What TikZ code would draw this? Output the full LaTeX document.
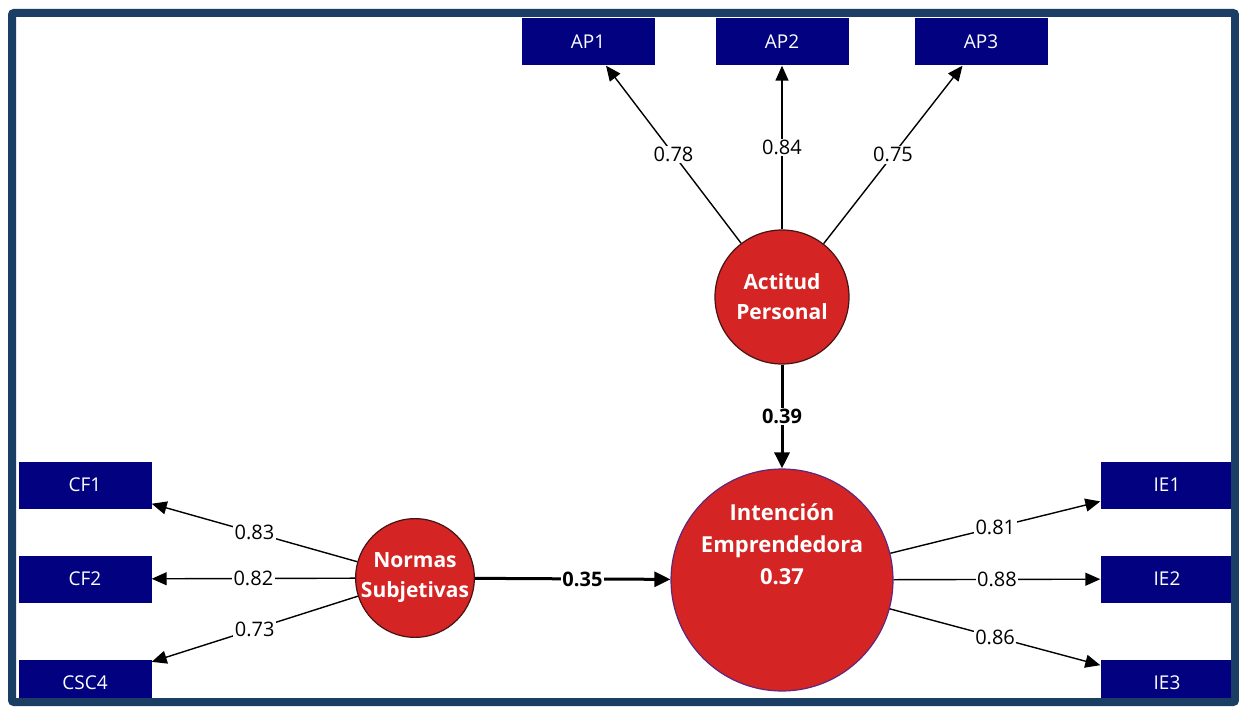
\documentclass[tikz,border=0pt]{standalone}
\usepackage{fontspec}
\setmainfont{Open Sans}
\usetikzlibrary{arrows.meta}
\definecolor{frameblue}{RGB}{27,62,100}
\definecolor{boxblue}{RGB}{2,2,128}
\definecolor{lvred}{RGB}{212,36,36}
\definecolor{lvborder}{RGB}{70,20,20}
\definecolor{ieborder}{RGB}{95,40,125}
\tikzset{
  indbox/.style={rectangle, fill=boxblue, text=white, minimum width=133pt, minimum height=47pt, inner sep=0pt, font=\fontsize{19}{21}\selectfont},
  latent/.style={circle, fill=lvred, draw=lvborder, line width=1.2pt, text=white, inner sep=0pt, align=center, font=\bfseries\fontsize{21}{30}\selectfont},
  load/.style={draw=black, line width=1.4pt, -{Triangle[length=15pt,width=13pt]}},
  path/.style={draw=black, line width=3pt, -{Triangle[length=16pt,width=15pt]}},
  lbl/.style={fill=white, inner sep=1.5pt, text=black, font=\fontsize{20}{22}\selectfont},
  blbl/.style={fill=white, inner sep=1.5pt, text=black, font=\bfseries\fontsize{20}{22}\selectfont}
}
\begin{document}
\begin{tikzpicture}[x=1pt,y=-1pt]
\useasboundingbox (0,0) rectangle (1239,708);
\fill[white] (0,0) rectangle (1239,708);
\begin{scope}
\clip (12,13) rectangle (1235,702);
% indicator boxes
\node[indbox] (AP1) at (588,42) {AP1};
\node[indbox] (AP2) at (782,42) {AP2};
\node[indbox] (AP3) at (981,42) {AP3};
\node[indbox] (CF1) at (85,485) {CF1};
\node[indbox] (CF2) at (85,579) {CF2};
\node[indbox] (CSC4) at (85,683) {CSC4};
\node[indbox] (IE1) at (1167,485) {IE1};
\node[indbox] (IE2) at (1167,579) {IE2};
\node[indbox] (IE3) at (1167,683) {IE3};
% latent variables
\node[latent, minimum size=134pt] (AP) at (782,297) {Actitud\\Personal};
\node[latent, minimum size=116pt] (NS) at (415,578) {Normas\\Subjetivas};
\node[latent, draw=ieborder, minimum size=222pt, font=\bfseries\fontsize{22}{32}\selectfont] (IE) at (782,580) {Intención\\Emprendedora\\0.37\\[40pt]};
% loadings
\draw[load] (AP) -- node[lbl] {0.78} (AP1);
\draw[load] (AP) -- node[lbl] {0.84} (AP2);
\draw[load] (AP) -- node[lbl] {0.75} (AP3);
\draw[load] (NS) -- node[lbl] {0.83} (CF1);
\draw[load] (NS) -- node[lbl] {0.82} (CF2);
\draw[load] (NS) -- node[lbl] {0.73} (CSC4);
\draw[load] (IE) -- node[lbl] {0.81} (IE1);
\draw[load] (IE) -- node[lbl] {0.88} (IE2);
\draw[load] (IE) -- node[lbl] {0.86} (IE3);
% structural paths
\draw[path] (AP) -- node[blbl] {0.39} (IE);
\draw[path] (NS) -- node[blbl, pos=0.55] {0.35} (IE);
\end{scope}
\draw[frameblue, line width=8pt, rounded corners=2pt] (12,13) rectangle (1235,702);
\end{tikzpicture}
\end{document}
